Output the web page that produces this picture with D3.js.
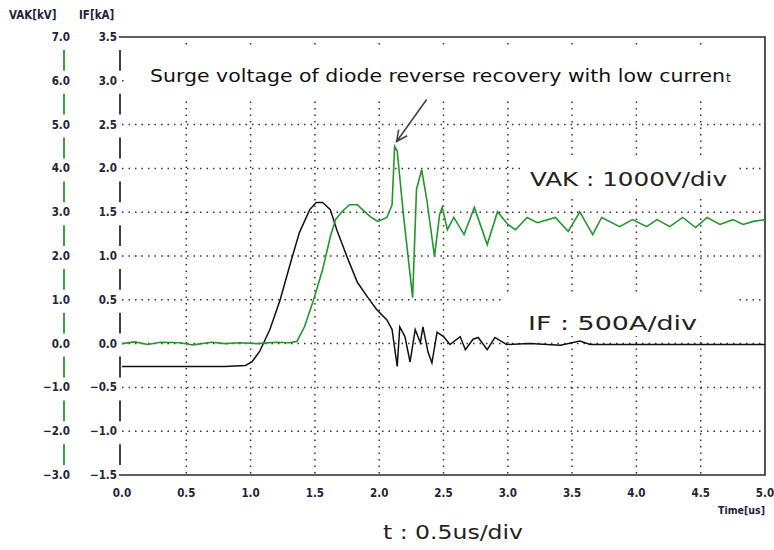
<!DOCTYPE html>
<html><head><meta charset="utf-8">
<script src="https://cdn.jsdelivr.net/npm/d3@7"></script>
<style>
html,body{margin:0;padding:0;background:#fff;}
svg{display:block;}
</style></head>
<body>
<svg id="c" width="774" height="550"></svg>
<script>
// ---- data ----
const vakTime = [0,0.1,0.2,0.3,0.45,0.55,0.7,0.8,0.92,1.05,1.2,1.3,1.36,1.42,1.49,1.56,1.62,1.66,1.71,1.77,1.83,1.87,1.93,1.99,2.06,2.10,2.12,2.14,2.19,2.26,2.29,2.33,2.37,2.43,2.47,2.49,2.53,2.58,2.66,2.74,2.84,2.92,3.00,3.06,3.15,3.23,3.37,3.47,3.56,3.66,3.73,3.87,3.97,4.08,4.16,4.26,4.36,4.46,4.55,4.65,4.75,4.83,4.91,5.00];
const vakValue = [0,0.04,-0.02,0.03,0.02,-0.03,0.03,0.0,0.02,0.0,0.03,0.02,0.05,0.39,1.0,1.69,2.44,2.83,3.01,3.17,3.17,3.06,2.90,2.79,2.88,3.17,4.50,4.40,2.90,1.05,3.52,3.97,3.29,1.99,2.95,3.11,2.60,2.88,2.49,3.11,2.26,3.01,2.72,2.60,2.88,2.76,2.88,2.56,3.01,2.49,2.88,2.67,2.83,2.67,2.83,2.67,2.88,2.65,2.88,2.72,2.83,2.72,2.79,2.83];
const ifTime = [0,0.3,0.61,0.8,0.96,1.01,1.07,1.15,1.23,1.31,1.38,1.46,1.51,1.56,1.62,1.67,1.75,1.83,1.91,1.98,2.06,2.10,2.14,2.16,2.20,2.24,2.28,2.32,2.34,2.38,2.41,2.45,2.50,2.55,2.63,2.67,2.73,2.77,2.84,2.90,2.99,3.17,3.41,3.56,3.64,4.11,4.5,5.00];
const ifValue = [-0.26,-0.26,-0.26,-0.26,-0.25,-0.21,-0.09,0.16,0.50,0.92,1.27,1.53,1.61,1.61,1.53,1.30,0.99,0.70,0.53,0.39,0.27,0.16,-0.26,0.19,0.08,-0.21,0.16,0.01,0.19,-0.10,-0.22,0.13,0.08,-0.01,0.08,-0.07,0.05,0.07,-0.07,0.07,-0.01,0.0,-0.02,0.03,-0.01,-0.01,-0.01,-0.01];
const timeTicks = [0,0.5,1,1.5,2,2.5,3,3.5,4,4.5,5];
const ifTicks = [-1.5,-1,-0.5,0,0.5,1,1.5,2,2.5,3,3.5];
const vakTicks = [-3,-2,-1,0,1,2,3,4,5,6,7];
const annotation = "Surge voltage of diode reverse recovery with low curren";
const annotationTail = "t";
const vakLabel = "VAK : 1000V/div";
const ifLabel = "IF : 500A/div";
const tLabel = "t : 0.5us/div";

// ---- layout ----
const L = 122, R = 765, T = 37, B = 475;
const svg = d3.select("#c");
const x = d3.scaleLinear().domain([0,5]).range([L,R]);
const yI = d3.scaleLinear().domain([-1.5,3.5]).range([B,T]);
const yV = d3.scaleLinear().domain([-3,7]).range([B,T]);
const fmt = d3.format(".1f");
const tickFont = "'DejaVu Sans Condensed','DejaVu Sans',sans-serif";
const textCol = "#23233a";
const green = "#23962a";

function tick(sel, size){
  return sel.attr("font-family",tickFont).attr("font-size",size).attr("font-stretch","condensed")
    .attr("font-weight","bold").attr("fill",textCol);
}

// grid
const grid = svg.append("g").attr("stroke","#333").attr("stroke-width",1.5).attr("stroke-dasharray","1.5,5");
grid.selectAll("line.v").data(timeTicks.slice(1,-1)).join("line")
  .attr("x1",d=>x(d)).attr("x2",d=>x(d)).attr("y1",T+6).attr("y2",B);
grid.selectAll("line.h").data(ifTicks.slice(1,-1)).join("line")
  .attr("x1",L).attr("x2",R).attr("y1",d=>yI(d)).attr("y2",d=>yI(d));

// frame
const frame = svg.append("g").attr("stroke","#2a2a2a").attr("stroke-width",1.6).attr("fill","none");
frame.append("path").attr("d",`M${L-3},${T}H${R}V${B}H${L-3}`);

// left axes: labels + broken segments
const axI = tick(svg.append("g"),11.5).attr("text-anchor","end");
axI.selectAll("text").data(ifTicks).join("text")
  .attr("x",117).attr("y",d=>yI(d)).attr("dy","0.35em").text(d=>fmt(d));
const axV = tick(svg.append("g"),11.5).attr("text-anchor","end");
axV.selectAll("text").data(vakTicks).join("text")
  .attr("x",70).attr("y",d=>yV(d)).attr("dy","0.35em").text(d=>fmt(d));
svg.append("g").attr("stroke","#111").attr("stroke-width",1.6).selectAll("line").data(d3.pairs(ifTicks)).join("line")
  .attr("x1",120).attr("x2",120).attr("y1",d=>yI(d[1])+13).attr("y2",d=>yI(d[0])-10);
svg.append("g").attr("stroke",green).attr("stroke-width",1.8).selectAll("line").data(d3.pairs(vakTicks)).join("line")
  .attr("x1",64).attr("x2",64).attr("y1",d=>yV(d[1])+13).attr("y2",d=>yV(d[0])-10);

// headers
tick(svg.append("text"),11.5).attr("x",9).attr("y",19).text("VAK[kV]");
tick(svg.append("text"),11.5).attr("x",79).attr("y",19).text("IF[kA]");

// x axis labels
tick(svg.append("g"),11.5).attr("text-anchor","middle")
  .selectAll("text").data(timeTicks).join("text")
  .attr("x",d=>x(d)).attr("y",497).text(d=>fmt(d));
tick(svg.append("text"),10.5).attr("x",R).attr("y",514).attr("text-anchor","end").text("Time[us]");

// label boxes (hide grid)
const bigFont = "'DejaVu Sans','Noto Sans',sans-serif";
svg.append("rect").attr("x",125).attr("y",46).attr("width",R-126).attr("height",51).attr("fill","#fff");
svg.append("rect").attr("x",524).attr("y",158).attr("width",214).attr("height",40).attr("fill","#fff");
svg.append("rect").attr("x",505).attr("y",292).attr("width",232).attr("height",44).attr("fill","#fff");

svg.append("text").attr("x",150).attr("y",82).attr("font-family",bigFont).attr("font-size",17.5).attr("fill","#111")
  .attr("textLength",575).attr("lengthAdjust","spacingAndGlyphs").text(annotation);
svg.append("text").attr("x",726).attr("y",82).attr("font-family",bigFont).attr("font-size",12).attr("fill","#111").text(annotationTail);
svg.append("text").attr("x",530).attr("y",186).attr("font-family",bigFont).attr("font-size",19).attr("fill","#222")
  .attr("textLength",197).attr("lengthAdjust","spacingAndGlyphs").text(vakLabel);
svg.append("text").attr("x",528).attr("y",330).attr("font-family",bigFont).attr("font-size",19).attr("fill","#222")
  .attr("textLength",169).attr("lengthAdjust","spacingAndGlyphs").text(ifLabel);
svg.append("text").attr("x",383).attr("y",539).attr("font-family",bigFont).attr("font-size",19).attr("fill","#222")
  .attr("textLength",140).attr("lengthAdjust","spacingAndGlyphs").text(tLabel);

// traces
const lineV = d3.line().x((d,i)=>x(vakTime[i])).y(d=>yV(d));
const lineI = d3.line().x((d,i)=>x(ifTime[i])).y(d=>yI(d));
svg.append("path").datum(ifValue).attr("d",lineI).attr("fill","none").attr("stroke","#111").attr("stroke-width",1.5);
svg.append("path").datum(vakValue).attr("d",lineV).attr("fill","none").attr("stroke",green).attr("stroke-width",1.6);

// arrow to surge peak
const pk = d3.maxIndex(vakValue);
const tipX = x(vakTime[pk]) + 2, tipY = yV(vakValue[pk]) - 5;
const tailX = tipX + 30, tailY = tipY - 42;
const ang = Math.atan2(tailY-tipY, tailX-tipX);
const ah = 12, spread = 0.45;
svg.append("path").attr("fill","none").attr("stroke","#444").attr("stroke-width",1.6)
  .attr("d",`M${tailX},${tailY}L${tipX},${tipY}M${tipX+ah*Math.cos(ang-spread)},${tipY+ah*Math.sin(ang-spread)}L${tipX},${tipY}L${tipX+ah*Math.cos(ang+spread)},${tipY+ah*Math.sin(ang+spread)}`);
</script>
</body></html>
